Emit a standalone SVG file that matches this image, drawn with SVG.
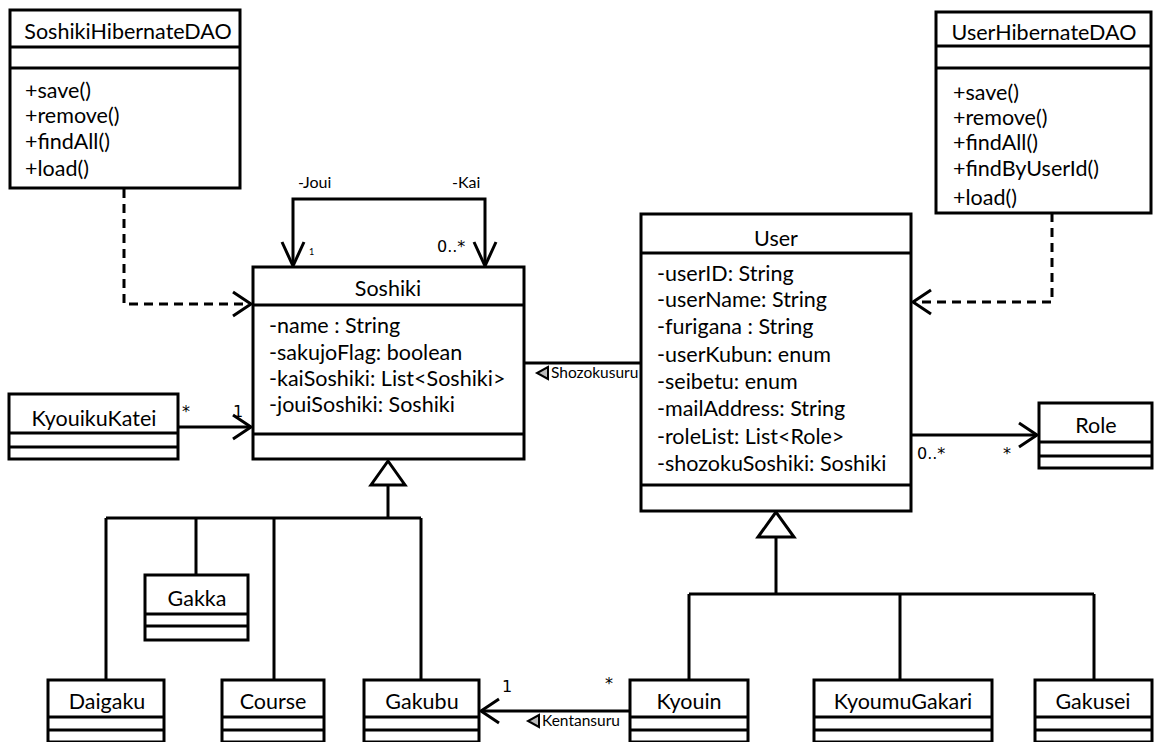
<svg xmlns="http://www.w3.org/2000/svg" width="1156" height="742" viewBox="0 0 1156 742">
  <defs>
    <style>
      .box { fill: #fff; stroke: #000; stroke-width: 3; }
      .sep { stroke: #000; stroke-width: 3; }
      .t { font-family: Lato, "Liberation Sans", sans-serif; font-size: 21.5px; fill: #000; }
      .title { text-anchor: middle; }
      .edge { fill: none; stroke: #000; stroke-width: 3; }
      .dash { stroke-dasharray: 9 6; }
      .head { fill: none; stroke: #000; stroke-width: 3; stroke-linejoin: miter; }
      .gen { fill: #fff; stroke: #000; stroke-width: 3; }
      .role { font-family: Lato, "Liberation Sans", sans-serif; font-size: 16px; fill: #000; }
      .mult { font-family: "DejaVu Sans", sans-serif; font-size: 16px; fill: #000; }
      .small { font-family: Lato, "Liberation Sans", sans-serif; font-size: 15.5px; fill: #000; }
      .dir { fill: #bbb; stroke: #000; stroke-width: 2; }
    </style>
  </defs>

  <rect width="1156" height="742" fill="#fff"/>

  <!-- connectors -->
  <g id="connectors">
    <!-- dependencies -->
    <path class="edge dash" d="M124,189 V304 H251"/>
    <path class="head" d="M233,292 L251,304 L233,316"/>
    <path class="edge dash" d="M1052,213 V302 H913"/>
    <path class="head" d="M931,290 L913,302 L931,314"/>

    <!-- Soshiki self association -->
    <path class="edge" d="M293,265 V199 H485 V265"/>
    <path class="head" d="M282,242 L293,266 L304,242"/>
    <path class="head" d="M474,242 L485,266 L496,242"/>
    <text class="role" x="298" y="188">-Joui</text>
    <text class="role" x="452" y="188">-Kai</text>
    <text class="role" x="309" y="255" style="font-size:9px">1</text>
    <text class="mult" x="437" y="252">0..*</text>

    <!-- KyouikuKatei -> Soshiki -->
    <path class="edge" d="M178,427 H251"/>
    <path class="head" d="M233,415 L251,427 L233,439"/>
    <text class="mult" x="182" y="417">*</text>
    <text class="mult" x="233" y="417">1</text>

    <!-- Shozokusuru -->
    <path class="edge" d="M524,363 H641"/>
    <polygon class="dir" points="548,367 548,379 537,373"/>
    <text class="small" x="551" y="378">Shozokusuru</text>

    <!-- User -> Role -->
    <path class="edge" d="M911,435 H1037"/>
    <path class="head" d="M1019,423 L1037,435 L1019,447"/>
    <text class="mult" x="917" y="459">0..*</text>
    <text class="mult" x="1003" y="459">*</text>

    <!-- Kentansuru -->
    <path class="edge" d="M630,711 H481"/>
    <path class="head" d="M499,699 L481,711 L499,723"/>
    <polygon class="dir" points="539,715 539,727 528,721"/>
    <text class="small" x="542" y="726">Kentansuru</text>
    <text class="mult" x="502" y="692">1</text>
    <text class="mult" x="605" y="689">*</text>

    <!-- generalization to Soshiki -->
    <path class="edge" d="M388,485 V518"/>
    <path class="edge" d="M106,518 H421"/>
    <path class="edge" d="M106,518 V680 M196,518 V575 M274,518 V680 M421,518 V680"/>
    <polygon class="gen" points="388,461 371,485 405,485"/>

    <!-- generalization to User -->
    <path class="edge" d="M776,537 V594"/>
    <path class="edge" d="M689,594 H1094"/>
    <path class="edge" d="M689,594 V680 M900,594 V680 M1094,594 V680"/>
    <polygon class="gen" points="776,512 758,537 794,537"/>
  </g>

  <!-- classes -->
  <g id="SoshikiHibernateDAO">
    <rect class="box" x="10" y="10" width="230" height="178"/>
    <line class="sep" x1="10" y1="47" x2="240" y2="47"/>
    <line class="sep" x1="10" y1="68" x2="240" y2="68"/>
    <text class="t title" x="128" y="39">SoshikiHibernateDAO</text>
    <text class="t" x="25" y="98">+save()</text>
    <text class="t" x="25" y="123">+remove()</text>
    <text class="t" x="25" y="149">+findAll()</text>
    <text class="t" x="25" y="176">+load()</text>
  </g>

  <g id="UserHibernateDAO">
    <rect class="box" x="936" y="12" width="215" height="201"/>
    <line class="sep" x1="936" y1="46" x2="1151" y2="46"/>
    <line class="sep" x1="936" y1="68" x2="1151" y2="68"/>
    <text class="t title" x="1044" y="40">UserHibernateDAO</text>
    <text class="t" x="953" y="100">+save()</text>
    <text class="t" x="953" y="125">+remove()</text>
    <text class="t" x="953" y="150">+findAll()</text>
    <text class="t" x="953" y="176">+findByUserId()</text>
    <text class="t" x="953" y="205">+load()</text>
  </g>

  <g id="Soshiki">
    <rect class="box" x="253" y="267" width="271" height="192"/>
    <line class="sep" x1="253" y1="305" x2="524" y2="305"/>
    <line class="sep" x1="253" y1="434" x2="524" y2="434"/>
    <text class="t title" x="388" y="296">Soshiki</text>
    <text class="t" x="269" y="333">-name : String</text>
    <text class="t" x="269" y="360">-sakujoFlag: boolean</text>
    <text class="t" x="269" y="386">-kaiSoshiki: List&lt;Soshiki&gt;</text>
    <text class="t" x="269" y="412">-jouiSoshiki: Soshiki</text>
  </g>

  <g id="User">
    <rect class="box" x="641" y="214" width="270" height="297"/>
    <line class="sep" x1="641" y1="253" x2="911" y2="253"/>
    <line class="sep" x1="641" y1="485" x2="911" y2="485"/>
    <text class="t title" x="776" y="246">User</text>
    <text class="t" x="657" y="281">-userID: String</text>
    <text class="t" x="657" y="307">-userName: String</text>
    <text class="t" x="657" y="334">-furigana : String</text>
    <text class="t" x="657" y="362">-userKubun: enum</text>
    <text class="t" x="657" y="389">-seibetu: enum</text>
    <text class="t" x="657" y="416">-mailAddress: String</text>
    <text class="t" x="657" y="444">-roleList: List&lt;Role&gt;</text>
    <text class="t" x="657" y="471">-shozokuSoshiki: Soshiki</text>
  </g>

  <g id="KyouikuKatei">
    <rect class="box" x="9" y="394" width="169" height="65"/>
    <line class="sep" x1="9" y1="433" x2="178" y2="433"/>
    <line class="sep" x1="9" y1="447" x2="178" y2="447"/>
    <text class="t title" x="94" y="426">KyouikuKatei</text>
  </g>

  <g id="Role">
    <rect class="box" x="1039" y="403" width="113" height="65"/>
    <line class="sep" x1="1039" y1="442" x2="1152" y2="442"/>
    <line class="sep" x1="1039" y1="456" x2="1152" y2="456"/>
    <text class="t title" x="1096" y="433">Role</text>
  </g>

  <g id="Gakka">
    <rect class="box" x="145" y="575" width="103" height="65"/>
    <line class="sep" x1="145" y1="614" x2="248" y2="614"/>
    <line class="sep" x1="145" y1="626" x2="248" y2="626"/>
    <text class="t title" x="197" y="606">Gakka</text>
  </g>

  <g id="Daigaku">
    <rect class="box" x="48" y="680" width="116" height="62"/>
    <line class="sep" x1="48" y1="717" x2="164" y2="717"/>
    <line class="sep" x1="48" y1="730" x2="164" y2="730"/>
    <text class="t title" x="107" y="709">Daigaku</text>
  </g>

  <g id="Course">
    <rect class="box" x="222" y="680" width="102" height="62"/>
    <line class="sep" x1="222" y1="717" x2="324" y2="717"/>
    <line class="sep" x1="222" y1="730" x2="324" y2="730"/>
    <text class="t title" x="273" y="709">Course</text>
  </g>

  <g id="Gakubu">
    <rect class="box" x="364" y="680" width="115" height="62"/>
    <line class="sep" x1="364" y1="717" x2="479" y2="717"/>
    <line class="sep" x1="364" y1="730" x2="479" y2="730"/>
    <text class="t title" x="422" y="709">Gakubu</text>
  </g>

  <g id="Kyouin">
    <rect class="box" x="630" y="680" width="118" height="62"/>
    <line class="sep" x1="630" y1="717" x2="748" y2="717"/>
    <line class="sep" x1="630" y1="730" x2="748" y2="730"/>
    <text class="t title" x="689" y="709">Kyouin</text>
  </g>

  <g id="KyoumuGakari">
    <rect class="box" x="814" y="680" width="178" height="62"/>
    <line class="sep" x1="814" y1="717" x2="992" y2="717"/>
    <line class="sep" x1="814" y1="730" x2="992" y2="730"/>
    <text class="t title" x="903" y="709">KyoumuGakari</text>
  </g>

  <g id="Gakusei">
    <rect class="box" x="1035" y="680" width="117" height="62"/>
    <line class="sep" x1="1035" y1="717" x2="1152" y2="717"/>
    <line class="sep" x1="1035" y1="730" x2="1152" y2="730"/>
    <text class="t title" x="1093" y="709">Gakusei</text>
  </g>
</svg>
